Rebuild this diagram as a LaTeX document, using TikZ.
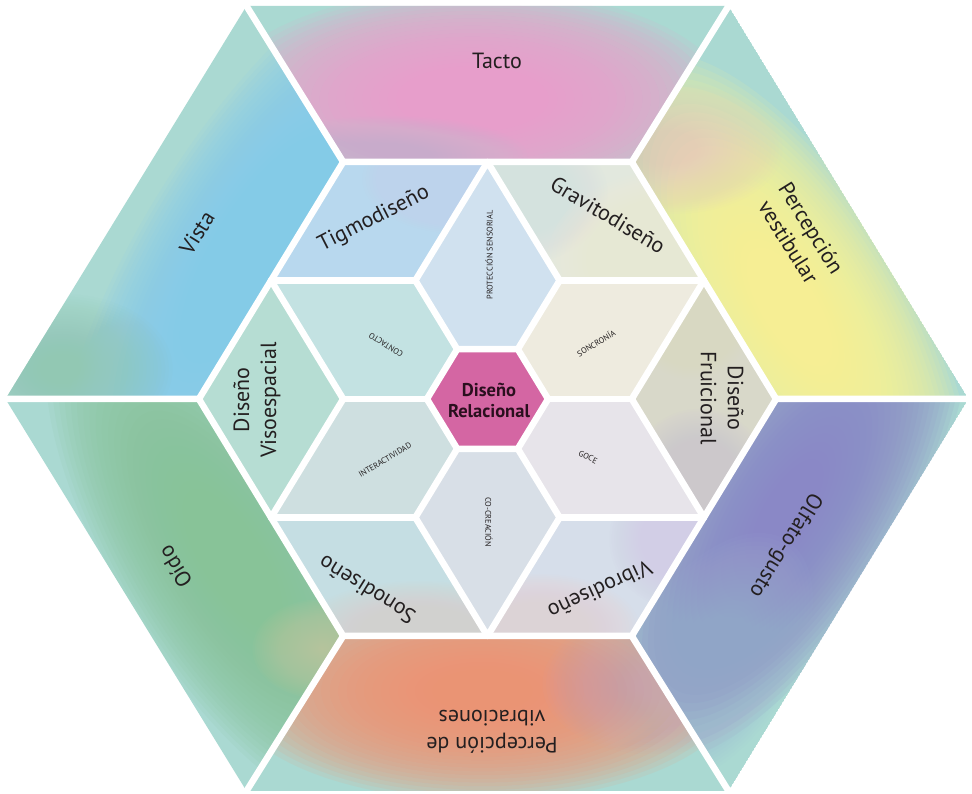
\documentclass[tikz,border=0pt]{standalone}
\usepackage{fontspec}
\setmainfont{PT Sans}
\definecolor{ink}{HTML}{231F20}
\definecolor{ink2}{HTML}{2A0F1E}
\definecolor{tealbase}{HTML}{AAD9D2}
\definecolor{vistablue}{HTML}{84CBF0}
\definecolor{vistagreen}{HTML}{92C8B3}
\definecolor{tactopink}{HTML}{F09ECB}
\definecolor{tactolav}{HTML}{C8BEDC}
\definecolor{vestyellow}{HTML}{FFF794}
\definecolor{vestpink}{HTML}{E6CEC8}
\definecolor{olfpurple}{HTML}{8A88C6}
\definecolor{olfblue}{HTML}{A3B8DA}
\definecolor{vibsalmon}{HTML}{F39474}
\definecolor{vibmauve}{HTML}{C8A8BC}
\definecolor{oidogreen}{HTML}{88C398}
\definecolor{oidotan}{HTML}{C8C39C}
\definecolor{tigmo}{HTML}{B8D8EE}
\definecolor{tigmolav}{HTML}{CAD3EC}
\definecolor{gravito}{HTML}{E2E8DE}
\definecolor{gravcream}{HTML}{F3EFD4}
\definecolor{gravblue}{HTML}{D4E2E8}
\definecolor{frui}{HTML}{D8D8C9}
\definecolor{fruilav}{HTML}{CCC8D8}
\definecolor{fruibeige}{HTML}{E4DFC2}
\definecolor{vibro}{HTML}{D6DEEA}
\definecolor{vibropink}{HTML}{E9D3D6}
\definecolor{vibrolav}{HTML}{D2CEE6}
\definecolor{sono}{HTML}{C5DEE3}
\definecolor{sonopink}{HTML}{DED1CF}
\definecolor{viso}{HTML}{B6DDD3}
\definecolor{contacto}{HTML}{C3E2E2}
\definecolor{proteccion}{HTML}{D0E1EF}
\definecolor{soncronia}{HTML}{EEEBDF}
\definecolor{goce}{HTML}{E7E4EA}
\definecolor{cocrea}{HTML}{D8DFE7}
\definecolor{interac}{HTML}{CEDFE0}
\definecolor{relacional}{HTML}{D466A3}
% soft blob: stacked translucent ellipses (colour, x, y, angle, rx, ry, layer opacity)
\newcommand\blobat[7]{\begin{scope}[shift={(#2,#3)},rotate=#4]\foreach \k in {1,...,30}{\fill[#1,fill opacity=#7] (0,0) ellipse [x radius={#5*\k/30}, y radius={#6*\k/30}];}\end{scope}}
\begin{document}
\begin{tikzpicture}[x=1pt,y=1pt,
  gapline/.style={draw=white,line width=6.5pt,line join=round,line cap=round},
  biglabel/.style={font=\fontsize{22}{27}\selectfont,text=ink,align=center,inner sep=0pt},
  smalllabel/.style={font=\fontsize{8.2}{10}\selectfont,text=ink,inner sep=0pt},
  centerlabel/.style={font=\bfseries\fontsize{18.5}{21}\selectfont,text=ink2,align=center,inner sep=0pt}]
\useasboundingbox (-487.5,-395) rectangle (484.5,399);
% outer hexagon
\coordinate (L) at (-482,0);
\coordinate (TL) at (-241,393);
\coordinate (TR) at (241,393);
\coordinate (R) at (481,0);
\coordinate (BR) at (241,-392);
\coordinate (BL) at (-241,-392);
% lattice
\coordinate (L2) at (-288.6,0);
\coordinate (L1) at (-144.3,0);
\coordinate (C) at (0,0);
\coordinate (R1) at (144.3,0);
\coordinate (R2) at (288.6,0);
\coordinate (TL2) at (-144.3,237);
\coordinate (T2) at (0,237);
\coordinate (TR2) at (144.3,237);
\coordinate (BL2) at (-144.3,-237);
\coordinate (B2) at (0,-237);
\coordinate (BR2) at (144.3,-237);
\coordinate (P1) at (-216.45,118.5);
\coordinate (P2) at (-72.15,118.5);
\coordinate (P3) at (72.15,118.5);
\coordinate (P4) at (216.45,118.5);
\coordinate (Q1) at (-216.45,-118.5);
\coordinate (Q2) at (-72.15,-118.5);
\coordinate (Q3) at (72.15,-118.5);
\coordinate (Q4) at (216.45,-118.5);
% centre hexagon
\coordinate (K0) at (60.6,0);
\coordinate (K1) at (30.3,49.8);
\coordinate (K2) at (-30.3,49.8);
\coordinate (K3) at (-60.6,0);
\coordinate (K4) at (-30.3,-49.8);
\coordinate (K5) at (30.3,-49.8);

% ---------- outer ring ----------
% Vista
\begin{scope}
\clip (L) -- (TL) -- (TL2) -- (L2) -- cycle;
\fill[tealbase] (L) -- (TL) -- (TL2) -- (L2) -- cycle;
\blobat{vistablue}{-228}{150}{58}{330}{115}{0.1}
\blobat{vistagreen}{-425}{30}{0}{110}{75}{0.05}
\end{scope}
% Tacto
\begin{scope}
\clip (TL) -- (TR) -- (TR2) -- (TL2) -- cycle;
\fill[tealbase] (TL) -- (TR) -- (TR2) -- (TL2) -- cycle;
\blobat{tactopink}{-15}{300}{0}{255}{110}{0.11}
\blobat{tactolav}{-100}{243}{0}{140}{40}{0.05}
\end{scope}
% Percepcion vestibular
\begin{scope}
\clip (TR) -- (R) -- (R2) -- (TR2) -- cycle;
\fill[tealbase] (TR) -- (R) -- (R2) -- (TR2) -- cycle;
\blobat{vestyellow}{302}{92}{-58}{290}{118}{0.11}
\blobat{vestpink}{185}{250}{0}{110}{65}{0.05}
\end{scope}
% Olfato-gusto
\begin{scope}
\clip (R) -- (BR) -- (BR2) -- (R2) -- cycle;
\fill[tealbase] (R) -- (BR) -- (BR2) -- (R2) -- cycle;
\blobat{olfpurple}{300}{-110}{58}{290}{115}{0.1}
\blobat{olfblue}{225}{-260}{58}{140}{80}{0.05}
\end{scope}
% Percepcion de vibraciones
\begin{scope}
\clip (BR) -- (BL) -- (BL2) -- (BR2) -- cycle;
\fill[tealbase] (BR) -- (BL) -- (BL2) -- (BR2) -- cycle;
\blobat{vibsalmon}{-5}{-292}{0}{255}{110}{0.11}
\blobat{vibmauve}{165}{-285}{0}{110}{70}{0.05}
\end{scope}
% Oido
\begin{scope}
\clip (BL) -- (L) -- (L2) -- (BL2) -- cycle;
\fill[tealbase] (BL) -- (L) -- (L2) -- (BL2) -- cycle;
\blobat{oidogreen}{-255}{-160}{-58}{300}{115}{0.1}
\blobat{oidotan}{-165}{-250}{0}{70}{50}{0.05}
\end{scope}

% ---------- middle ring ----------
\begin{scope}
\clip (TL2) -- (T2) -- (P2) -- (P1) -- cycle;
\fill[tigmo] (TL2) -- (T2) -- (P2) -- (P1) -- cycle;
\blobat{tigmolav}{-25}{220}{0}{100}{55}{0.075}
\end{scope}
\begin{scope}
\clip (T2) -- (TR2) -- (P4) -- (P3) -- cycle;
\fill[gravito] (T2) -- (TR2) -- (P4) -- (P3) -- cycle;
\blobat{gravblue}{30}{205}{0}{90}{70}{0.075}
\blobat{gravcream}{190}{140}{0}{130}{90}{0.075}
\end{scope}
\begin{scope}
\clip (P4) -- (R2) -- (Q4) -- (R1) -- cycle;
\fill[frui] (P4) -- (R2) -- (Q4) -- (R1) -- cycle;
\blobat{fruibeige}{205}{80}{0}{60}{60}{0.075}
\blobat{fruilav}{212}{-80}{0}{70}{70}{0.075}
\end{scope}
\begin{scope}
\clip (Q3) -- (Q4) -- (BR2) -- (B2) -- cycle;
\fill[vibro] (Q3) -- (Q4) -- (BR2) -- (B2) -- cycle;
\blobat{vibrolav}{192}{-140}{0}{70}{70}{0.075}
\blobat{vibropink}{52}{-230}{0}{100}{55}{0.075}
\end{scope}
\begin{scope}
\clip (Q1) -- (Q2) -- (B2) -- (BL2) -- cycle;
\fill[sono] (Q1) -- (Q2) -- (B2) -- (BL2) -- cycle;
\blobat{sonopink}{-68}{-232}{0}{120}{50}{0.075}
\end{scope}
\fill[viso] (P1) -- (L1) -- (Q1) -- (L2) -- cycle;

% ---------- inner rhombi ----------
\fill[contacto] (P1) -- (P2) -- (C) -- (L1) -- cycle;
\fill[proteccion] (T2) -- (P3) -- (C) -- (P2) -- cycle;
\fill[soncronia] (P3) -- (P4) -- (R1) -- (C) -- cycle;
\fill[goce] (C) -- (R1) -- (Q4) -- (Q3) -- cycle;
\fill[cocrea] (C) -- (Q3) -- (B2) -- (Q2) -- cycle;
\fill[interac] (L1) -- (C) -- (Q2) -- (Q1) -- cycle;

% ---------- white gaps ----------
\draw[gapline] (L2) -- (TL2) -- (TR2) -- (R2) -- (BR2) -- (BL2) -- cycle;
\draw[gapline] (L) -- (L2) (TL) -- (TL2) (TR) -- (TR2) (R) -- (R2) (BR) -- (BR2) (BL) -- (BL2);
\draw[gapline] (P1) -- (P2) (P3) -- (P4) (Q1) -- (Q2) (Q3) -- (Q4) (L1) -- (R1);
\draw[gapline] (P1) -- (L1) -- (Q1);
\draw[gapline] (P4) -- (R1) -- (Q4);
\draw[gapline] (T2) -- (P2) -- (C) -- (P3) -- cycle;
\draw[gapline] (B2) -- (Q2) -- (C) -- (Q3) -- cycle;

% ---------- centre ----------
\fill[relacional] (K0) -- (K1) -- (K2) -- (K3) -- (K4) -- (K5) -- cycle;
\draw[gapline] (K0) -- (K1) -- (K2) -- (K3) -- (K4) -- (K5) -- cycle;
\node[centerlabel] (relnode) at (1.5,-1) {Diseño\\Relacional};

% ---------- labels ----------
\node[biglabel] (tacto) at (9.5,338) {Tacto};
\node[biglabel,rotate=58] (vista) at (-290.5,166) {Vista};
\node[biglabel,rotate=-58] (vestibular) at (312.5,164) {Percepción\\vestibular};
\node[biglabel,rotate=238] (olfato) at (297.5,-146) {Olfato-gusto};
\node[biglabel,rotate=180] (vibraciones) at (4.5,-333) {Percepción de\\vibraciones};
\node[biglabel,rotate=122] (oido) at (-312.5,-168) {Oído};
\node[biglabel,rotate=27] (tigmo) at (-113.5,180) {Tigmodiseño};
\node[biglabel,rotate=-31] (gravito) at (120.5,184) {Gravitodiseño};
\node[biglabel,rotate=90] (visoespacial) at (-230.5,-1) {Diseño\\Visoespacial};
\node[biglabel,rotate=-90] (fruicional) at (234.5,1) {Diseño\\Fruicional};
\node[biglabel,rotate=205] (vibrodis) at (112.5,-191) {Vibrodiseño};
\node[biglabel,rotate=148] (sonodis) at (-120.5,-191) {Sonodiseño};
\node[smalllabel,rotate=148] (contactolbl) at (-101.5,54) {CONTACTO};
\node[smalllabel,rotate=90] (proteclbl) at (1.5,144) {PROTECCIÓN SENSORIAL};
\node[smalllabel,rotate=31] (soncrolbl) at (108.5,56) {SONCRONÍA};
\node[smalllabel,rotate=-27] (gocelbl) at (100.5,-58) {GOCE};
\node[smalllabel,rotate=-90] (cocrealbl) at (1.5,-123) {CO-CREACIÓN};
\node[smalllabel,rotate=31] (interaclbl) at (-102.5,-61) {INTERACTIVIDAD};
\end{tikzpicture}
\end{document}
